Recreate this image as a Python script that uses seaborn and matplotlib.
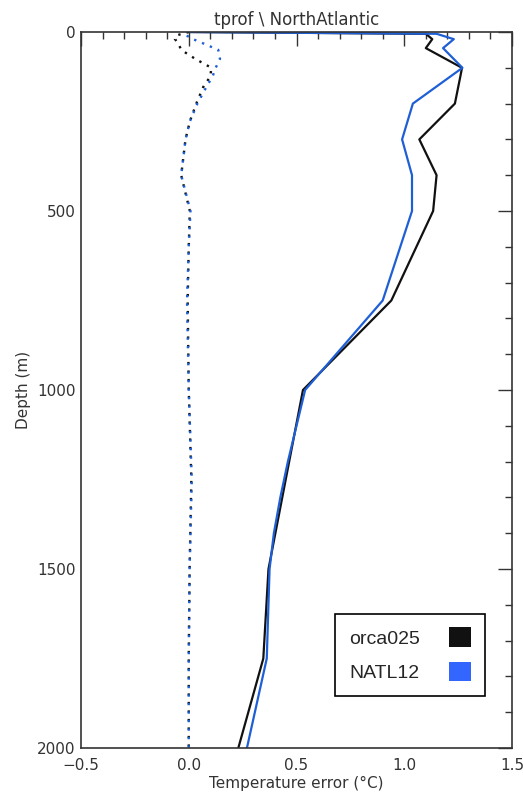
import numpy as np
import pandas as pd
import seaborn as sns
import matplotlib
matplotlib.use("Agg")
import matplotlib.pyplot as plt
from matplotlib.patches import Patch
from matplotlib.ticker import MultipleLocator, FuncFormatter

# ---- data ----
orca_depth = [0, 5, 20, 45, 100, 125, 200, 300, 400, 500, 750, 1000, 1500, 1750, 2000]
orca_rms = [0.0, 1.10, 1.13, 1.10, 1.268, 1.26, 1.235, 1.07, 1.15, 1.134, 0.94, 0.53, 0.37, 0.346, 0.23]

natl_depth = [0, 5, 20, 45, 100, 200, 300, 400, 500, 750, 1000, 1100, 1200, 1300, 1400, 1500, 1750, 2000]
natl_rms = [0.0, 1.15, 1.23, 1.18, 1.27, 1.04, 0.99, 1.036, 1.036, 0.90, 0.54, 0.50, 0.46, 0.425, 0.395, 0.375, 0.362, 0.27]

bias_depth = [0, 10, 20, 30, 50, 75, 100, 125, 150, 200, 250, 300, 400, 500, 600, 750, 1000, 1250, 1500, 1750, 2000]
orca_bias = [0.0, -0.06, -0.064, -0.05, -0.035, 0.03, 0.105, 0.10, 0.07, 0.035, 0.005, -0.015, -0.035, 0.005, 0.0, -0.005, 0.0, 0.012, 0.004, 0.0, 0.0]
natl_bias = [0.0, -0.01, 0.02, 0.06, 0.137, 0.145, 0.125, 0.11, 0.085, 0.04, 0.005, -0.015, -0.035, 0.008, 0.0, -0.008, 0.0, 0.014, 0.004, 0.0, 0.0]

models = ["orca025", "NATL12"]
title = "tprof \\ NorthAtlantic"
xlabel = "Temperature error (\u00b0C)"
ylabel = "Depth (m)"

BLACK = "#111111"
BLUE = "#1f5fd6"
BLUE_SQ = "#3366ff"

sns.set_style("white")
plt.rcParams["font.family"] = ["DejaVu Sans"]

fig = plt.figure(figsize=(5.23, 7.97), dpi=100)
ax = fig.add_axes([81 / 523, 1 - 748 / 797, 431 / 523, 716 / 797])

def frame(depth, vals, model, kind):
    return pd.DataFrame({"depth": depth, "value": vals, "model": model, "kind": kind})

df_rms = pd.concat([frame(orca_depth, orca_rms, "orca025", "rms"),
                    frame(natl_depth, natl_rms, "NATL12", "rms")])
df_bias = pd.concat([frame(bias_depth, orca_bias, "orca025", "bias"),
                     frame(bias_depth, natl_bias, "NATL12", "bias")])

pal = {"orca025": BLACK, "NATL12": BLUE}
dot_style = {"orca025": (0, (1, 2.6)), "NATL12": (1.8, (1, 2.6))}

sns.lineplot(data=df_rms, x="value", y="depth", hue="model", palette=pal,
             sort=False, estimator=None, lw=1.6, ax=ax, legend=False)
for m in models:
    sub = df_bias[df_bias.model == m]
    sns.lineplot(data=sub, x="value", y="depth", color=pal[m], sort=False,
                 estimator=None, lw=1.7, ls=dot_style[m], ax=ax, legend=False)

ax.set_xlim(-0.5, 1.5)
ax.set_ylim(2000, 0)
ax.xaxis.set_major_locator(MultipleLocator(0.5))
ax.xaxis.set_minor_locator(MultipleLocator(0.1))
ax.yaxis.set_major_locator(MultipleLocator(500))
ax.yaxis.set_minor_locator(MultipleLocator(100))
ax.xaxis.set_major_formatter(FuncFormatter(lambda v, p: f"{v:.1f}".replace("-", "\u2212")))
ax.tick_params(which="both", direction="in", top=True, right=True,
               color="#333333", width=1.0, labelcolor="#333333", labelsize=11)
ax.tick_params(which="major", length=10)
ax.tick_params(which="minor", length=5)
ax.tick_params(axis="x", pad=7)
ax.tick_params(axis="y", pad=4)
for s in ax.spines.values():
    s.set_color("#333333")
    s.set_linewidth(1.2)

ax.set_xlabel(xlabel, fontsize=11, color="#333333", labelpad=2)
ax.set_ylabel(ylabel, fontsize=11, color="#333333", labelpad=4)
ax.set_title(title, fontsize=12, color="#333333", pad=5)

handles = [Patch(facecolor=BLACK, edgecolor="none", label="orca025"),
           Patch(facecolor=BLUE_SQ, edgecolor="none", label="NATL12")]
leg = ax.legend(handles=handles, loc="lower right", bbox_to_anchor=(0.937, 0.0726),
                markerfirst=False, frameon=True, fancybox=False, framealpha=1,
                edgecolor="black", handlelength=1.15, handleheight=1.15,
                handletextpad=1.5, labelspacing=0.75, borderpad=0.7,
                borderaxespad=0, prop={"family": "Liberation Sans", "size": 14})
leg.get_frame().set_linewidth(1.2)

fig.savefig("out.png", dpi=100)
